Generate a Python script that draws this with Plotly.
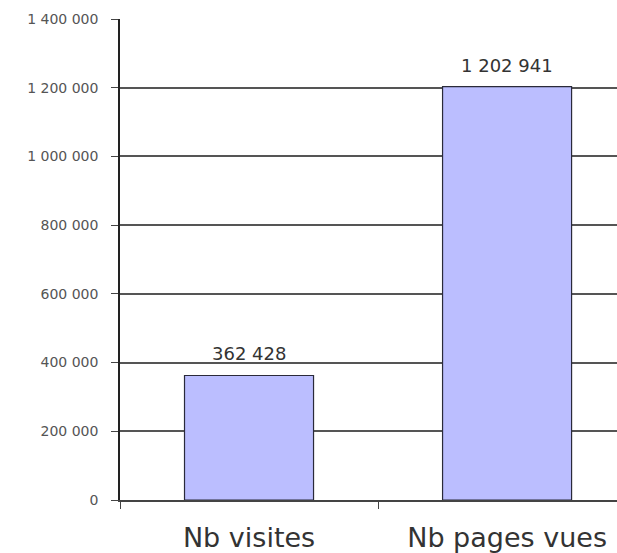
import plotly.graph_objects as go

categories = ["Nb visites", "Nb pages vues"]
values = [362428, 1202941]
y_ticks = [0, 200000, 400000, 600000, 800000, 1000000, 1200000, 1400000]

FONT = "DejaVu Sans, Liberation Sans, Arial"

fig = go.Figure(
    go.Bar(
        x=categories,
        y=values,
        width=0.5,
        marker=dict(color="#BBBEFF", line=dict(color="#2a2a3a", width=1.2)),
        cliponaxis=False,
    )
)

for c, v in zip(categories, values):
    fig.add_annotation(
        x=c, y=v, text=f"{v:,}".replace(",", " "),
        showarrow=False, yanchor="bottom", yshift=9,
        font=dict(family=FONT, size=18, color="#333333"),
    )

fig.update_layout(
    width=617,
    height=553,
    margin=dict(l=120, r=0, t=19, b=53),
    paper_bgcolor="white",
    plot_bgcolor="white",
    separators=". ",
    showlegend=False,
    font=dict(family=FONT, color="#444444"),
)

fig.update_xaxes(
    range=[-0.5, 1.426],
    showgrid=False,
    showline=True,
    linecolor="#444444",
    linewidth=1.5,
    ticks="outside",
    tickson="boundaries",
    ticklen=7,
    tickcolor="#444444",
    tickfont=dict(family=FONT, size=27, color="#333333"),
    ticklabelstandoff=13,
)

fig.update_yaxes(
    range=[0, 1400000],
    tickvals=y_ticks,
    tickformat=",d",
    showgrid=True,
    gridcolor="#555555",
    gridwidth=1.5,
    zeroline=False,
    showline=True,
    linecolor="#222222",
    linewidth=1.5,
    ticks="outside",
    ticklen=7,
    tickcolor="#444444",
    tickfont=dict(family=FONT, size=14, color="#555555"),
    ticklabelstandoff=10,
)

fig.write_html(
    "out.html",
    config={"displayModeBar": False},
    post_script="document.body.style.margin='0';document.body.style.overflow='hidden';",
)
